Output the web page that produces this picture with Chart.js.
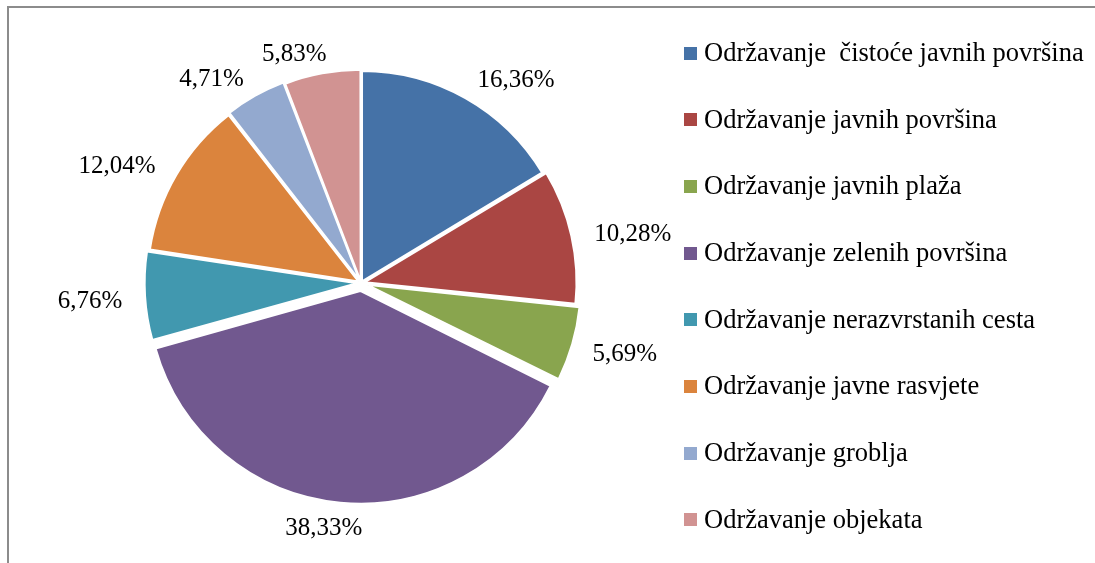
<!DOCTYPE html>
<html>
<head>
<meta charset="utf-8">
<script src="https://cdn.jsdelivr.net/npm/chart.js@4.4.1/dist/chart.umd.min.js"></script>
<style>
  html, body { margin: 0; padding: 0; background: #fff; overflow: hidden; }
  #wrap { position: relative; width: 1095px; height: 563px; }
</style>
</head>
<body>
<div id="wrap"><canvas id="pieChart"></canvas></div>
<script>
// Data
const categories = [
    'Održavanje  čistoće javnih površina',
    'Održavanje javnih površina',
    'Održavanje javnih plaža',
    'Održavanje zelenih površina',
    'Održavanje nerazvrstanih cesta',
    'Održavanje javne rasvjete',
    'Održavanje groblja',
    'Održavanje objekata'
];
const shares = [16.36, 10.28, 5.69, 38.33, 6.76, 12.04, 4.71, 5.83];

// Styling
const sliceColors = ['#4572A7', '#AA4643', '#89A54E', '#71588F', '#4198AF', '#DB843D', '#93A9CF', '#D19392'];
// pixel explosion per slice (chart.js moves an arc by offset / 4)
const explode = [2, 4, 6, 8, 4, 3, 3, 2];
const LABEL_FONT = '25px "Liberation Serif", "Times New Roman", serif';
const LEGEND_FONT = '26.5px "Liberation Serif", "Times New Roman", serif';

const fmt = v => v.toFixed(2).replace('.', ',') + '%';

// frame, outside labels and right legend
const pieExtras = {
    id: 'pieExtras',
    beforeDraw(chart) {
        const ctx = chart.ctx;
        ctx.save();
        ctx.strokeStyle = '#8c8c8c';
        ctx.lineWidth = 2;
        ctx.strokeRect(8, 7, chart.width + 20, chart.height + 20);
        ctx.restore();
    },
    afterDatasetsDraw(chart) {
        const ctx = chart.ctx;
        const meta = chart.getDatasetMeta(0);
        ctx.save();
        ctx.font = LABEL_FONT;
        ctx.fillStyle = '#000';
        ctx.textAlign = 'center';
        ctx.textBaseline = 'middle';
        meta.data.forEach((arc, i) => {
            const p = arc.getProps(['x', 'y', 'startAngle', 'endAngle', 'outerRadius'], true);
            const mid = (p.startAngle + p.endAngle) / 2;
            const r = p.outerRadius + explode[i] + 25;
            const txt = fmt(shares[i]);
            const w = ctx.measureText(txt).width;
            const sx = Math.max(-1, Math.min(1, Math.cos(mid) * 4));
            ctx.fillText(txt, p.x + Math.cos(mid) * r + sx * w / 2, p.y + Math.sin(mid) * r + 4);
        });

        // legend
        const top = 53, step = 66.7, boxX = 684, box = 13, textX = 704;
        ctx.font = LEGEND_FONT;
        ctx.textAlign = 'left';
        categories.forEach((name, i) => {
            const y = top + i * step;
            ctx.fillStyle = sliceColors[i];
            ctx.fillRect(boxX, Math.round(y - box / 2), box, box);
            ctx.fillStyle = '#000';
            ctx.fillText(name, textX, y + 1);
        });
        ctx.restore();
    }
};

const ctx = document.getElementById('pieChart').getContext('2d');
new Chart(ctx, {
    type: 'pie',
    data: {
        labels: categories,
        datasets: [{
            data: shares,
            backgroundColor: sliceColors,
            borderColor: '#ffffff',
            borderWidth: 2,
            offset: explode.map(o => o * 4)
        }]
    },
    options: {
        responsive: true,
        maintainAspectRatio: false,
        animation: false,
        radius: 210,
        layout: { padding: { left: 0, right: 373, top: 3, bottom: 0 } },
        plugins: {
            legend: { display: false },
            tooltip: { enabled: false }
        }
    },
    plugins: [pieExtras]
});
</script>
</body>
</html>
